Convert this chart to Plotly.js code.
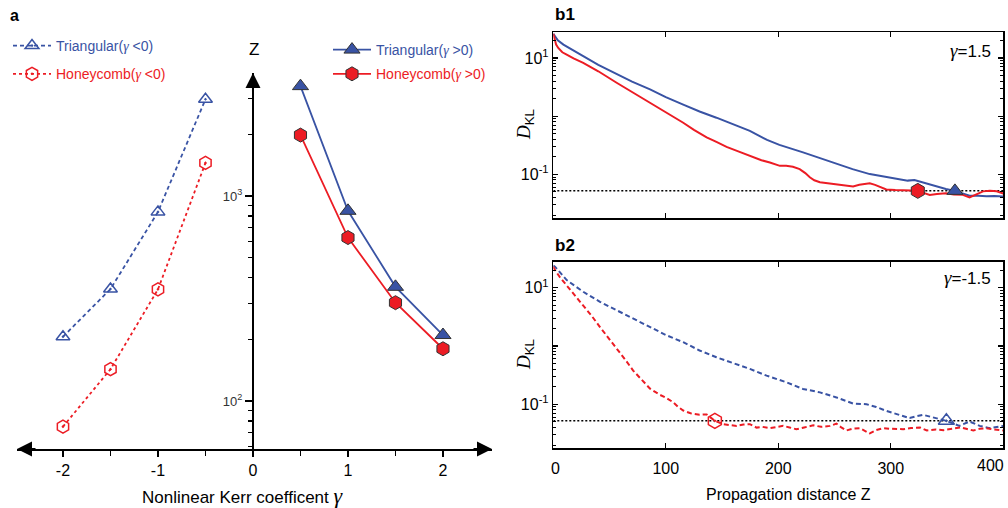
<!DOCTYPE html>
<html><head><meta charset="utf-8">
<script src="https://cdn.plot.ly/plotly-3.0.1.min.js"></script>
<style>html,body{margin:0;padding:0;background:#fff}#chart{width:1008px;height:508px}</style>
</head><body><div id="chart"></div>
<script>
// ---------- Panel a data ----------
const gammaNeg = [-2, -1.5, -1, -0.5];
const triNeg   = [206, 352, 838, 2970];
const hcNeg    = [75, 143, 351, 1453];
const gammaPos = [0.5, 1, 1.5, 2];
const triPos   = [3443, 848, 361, 210];
const hcPos    = [1986, 628, 302, 180];

// ---------- Panel b1 (gamma = 1.5) ----------
const b1TriZ = [0, 4, 9, 18, 26.6, 40, 56.3, 70, 86, 100, 115.5, 130, 145, 160, 174.7, 190, 201, 222, 237, 251.7, 266, 281.3, 295, 305, 315, 321, 327, 334.6, 342, 349, 357, 365, 370, 378, 385, 392, 400];
const b1TriD = [26, 20, 16.9, 13.2, 10.7, 7.6, 5.3, 3.9, 2.88, 2.12, 1.58, 1.2, 0.94, 0.72, 0.557, 0.39, 0.32, 0.238, 0.19, 0.15, 0.123, 0.101, 0.09, 0.083, 0.078, 0.08, 0.074, 0.068, 0.062, 0.056, 0.052, 0.046, 0.043, 0.043, 0.042, 0.0425, 0.0415];
const b1HcZ = [0, 1, 2.5, 4.4, 8, 11.9, 18, 26.6, 40, 56.3, 70, 86, 100, 115.5, 125, 136.3, 145, 154, 165, 174.7, 185, 192.5, 201.4, 207, 213, 219, 224, 228, 232, 237, 244, 251.7, 258, 266.5, 272, 278, 281.3, 286, 290, 296, 304, 311, 318, 324, 330, 334.6, 341, 349, 356, 364, 370, 376, 382, 388, 394, 400];
const b1HcD = [26, 21, 17, 14.8, 12.5, 11.4, 9.8, 8.2, 5.9, 3.74, 2.6, 1.7, 1.15, 0.77, 0.58, 0.43, 0.36, 0.297, 0.245, 0.208, 0.175, 0.16, 0.14, 0.141, 0.135, 0.123, 0.105, 0.089, 0.079, 0.073, 0.07, 0.068, 0.066, 0.062, 0.066, 0.068, 0.07, 0.066, 0.062, 0.055, 0.054, 0.054, 0.053, 0.052, 0.048, 0.0444, 0.046, 0.0473, 0.045, 0.0444, 0.04, 0.045, 0.051, 0.052, 0.051, 0.047];

// ---------- Panel b2 (gamma = -1.5) ----------
const b2TriZ = [0, 1.5, 11.9, 26.6, 41.5, 56.3, 71, 86, 100.7, 115.5, 130, 145, 160, 174.7, 189.6, 207.3, 222, 237, 251.7, 266.5, 278.4, 287, 296, 306, 316.8, 322, 328.6, 334, 340.5, 349.4, 355, 361, 365, 370, 375, 379, 388, 394, 400];
const b2TriD = [24, 22.9, 13.5, 8.5, 5.7, 4.1, 2.94, 2.11, 1.52, 1.16, 0.836, 0.64, 0.513, 0.404, 0.31, 0.238, 0.183, 0.16, 0.131, 0.103, 0.1, 0.09, 0.077, 0.067, 0.058, 0.062, 0.066, 0.062, 0.058, 0.052, 0.047, 0.0426, 0.046, 0.0506, 0.046, 0.0426, 0.039, 0.041, 0.0426];
const b2HcZ = [0, 1.5, 6, 11.9, 18, 26.6, 34, 41.5, 49, 56.3, 64, 71, 78, 86, 94.8, 100, 106.6, 111, 115.5, 122, 130, 136.3, 143.6, 151, 157, 163, 169, 174.7, 180.7, 186, 192.5, 198, 204.3, 210, 216, 223, 231, 238, 246, 251.7, 256, 260.6, 266, 272.5, 277, 281.3, 287, 293, 300, 311, 318, 326, 332, 340, 347, 354, 361.6, 367, 373.4, 379, 385, 392, 400];
const b2HcD = [23, 20, 15, 11, 7.8, 5.0, 3.3, 2.11, 1.38, 0.895, 0.58, 0.378, 0.27, 0.185, 0.145, 0.13, 0.108, 0.09, 0.078, 0.07, 0.066, 0.067, 0.052, 0.0456, 0.044, 0.0426, 0.045, 0.0456, 0.0398, 0.041, 0.0389, 0.041, 0.0426, 0.04, 0.0373, 0.04, 0.0436, 0.041, 0.0426, 0.0465, 0.04, 0.0355, 0.038, 0.0389, 0.035, 0.0316, 0.036, 0.0389, 0.038, 0.0373, 0.039, 0.04, 0.0355, 0.037, 0.036, 0.038, 0.04, 0.038, 0.0355, 0.038, 0.0389, 0.037, 0.0355];

const threshold = 0.052;
const thrZ = [0, 400];
const b1MarkZ = {hc: 324, tri: 357};
const b2MarkZ = {hc: 143.6, tri: 349.4};

const aTicks = [-2, -1, 0, 1, 2];
const aTickText = ['-2', '-1', '0', '1', '2'];
const bTicks = [0, 100, 200, 300, 400];
const bTickText = ['\u00a00', '100', '200', '300', ''];
const bLastTick = '400';

// ---------- styling / layout ----------
const W = 1008, H = 508;
const px = v => v / W;
const py = v => 1 - v / H;
const BLUE = '#3953a4', RED = '#ec1c24', EDGE = '#333333';
const FONT = "'Liberation Sans', Arial, sans-serif";
const gam = c => '<span style="color:' + c + ';font-family:Liberation Serif,serif"><i>γ</i></span>';
const legName = (label, c, rel) => '<span style="color:' + c + '">' + label + '(</span>' + gam(c) + '<span style="color:' + c + '">' + rel + '0)</span>';

const traces = [
  {x: gammaNeg, y: triNeg, xaxis: 'x', yaxis: 'y', mode: 'lines+markers', legend: 'legend', legendgroup: 'g1',
   name: legName('Triangular', BLUE, ' &lt;'),
   line: {color: BLUE, width: 1.8, dash: '4px,3px'},
   marker: {symbol: 'triangle-up-open-dot', size: 12, color: BLUE, line: {color: BLUE, width: 1.5}}},
  {x: gammaNeg, y: hcNeg, xaxis: 'x', yaxis: 'y', mode: 'lines+markers', legend: 'legend', legendgroup: 'g2',
   name: legName('Honeycomb', RED, ' &lt;'),
   line: {color: RED, width: 1.8, dash: '3px,3px'},
   marker: {symbol: 'hexagon-open-dot', size: 13, color: RED, line: {color: RED, width: 1.5}}},
  {x: gammaPos, y: triPos, xaxis: 'x', yaxis: 'y', mode: 'lines+markers', legend: 'legend2', legendgroup: 'g3',
   name: legName('Triangular', BLUE, ' &gt;'),
   line: {color: BLUE, width: 1.8},
   marker: {symbol: 'triangle-up', size: 14, color: BLUE, line: {color: EDGE, width: 1}}},
  {x: gammaPos, y: hcPos, xaxis: 'x', yaxis: 'y', mode: 'lines+markers', legend: 'legend2', legendgroup: 'g4',
   name: legName('Honeycomb', RED, ' &gt;'),
   line: {color: RED, width: 1.8},
   marker: {symbol: 'hexagon', size: 14, color: RED, line: {color: EDGE, width: 1}}},

  // b1
  {x: thrZ, y: [threshold, threshold], xaxis: 'x2', yaxis: 'y2', mode: 'lines', showlegend: false,
   line: {color: '#000', width: 1.5, dash: '2px,2px'}},
  {x: b1TriZ, y: b1TriD, xaxis: 'x2', yaxis: 'y2', mode: 'lines', showlegend: false, line: {color: BLUE, width: 2}},
  {x: b1HcZ, y: b1HcD, xaxis: 'x2', yaxis: 'y2', mode: 'lines', showlegend: false, line: {color: RED, width: 2}},
  {x: [b1MarkZ.hc], y: [threshold], xaxis: 'x2', yaxis: 'y2', mode: 'markers', showlegend: false,
   marker: {symbol: 'hexagon', size: 15, color: RED, line: {color: EDGE, width: 1}}},
  {x: [b1MarkZ.tri], y: [threshold], xaxis: 'x2', yaxis: 'y2', mode: 'markers', showlegend: false,
   marker: {symbol: 'triangle-up', size: 14, color: BLUE, line: {color: EDGE, width: 1}}},

  // b2
  {x: thrZ, y: [threshold, threshold], xaxis: 'x3', yaxis: 'y3', mode: 'lines', showlegend: false,
   line: {color: '#000', width: 1.5, dash: '2px,2px'}},
  {x: b2TriZ, y: b2TriD, xaxis: 'x3', yaxis: 'y3', mode: 'lines', showlegend: false, line: {color: BLUE, width: 2, dash: '5px,3px'}},
  {x: b2HcZ, y: b2HcD, xaxis: 'x3', yaxis: 'y3', mode: 'lines', showlegend: false, line: {color: RED, width: 2, dash: '5px,3px'}},
  {x: [b2MarkZ.hc], y: [threshold], xaxis: 'x3', yaxis: 'y3', mode: 'markers', showlegend: false,
   marker: {symbol: 'hexagon-open-dot', size: 15, color: RED, line: {color: RED, width: 1.5}}},
  {x: [b2MarkZ.tri], y: [threshold], xaxis: 'x3', yaxis: 'y3', mode: 'markers', showlegend: false,
   marker: {symbol: 'triangle-up-open-dot', size: 14, color: BLUE, line: {color: BLUE, width: 1.5}}}
];

const minorA = [60, 70, 80, 90, 200, 300, 400, 500, 600, 700, 800, 900, 2000, 3000];
const minorB = [0.02, 0.03, 0.04, 0.05, 0.06, 0.07, 0.08, 0.09, 0.2, 0.3, 0.4, 0.5, 0.6, 0.7, 0.8, 0.9, 2, 3, 4, 5, 6, 7, 8, 9, 20];

const bY = (dom) => ({
  type: 'log', range: [-1.75, 1.445], domain: dom, showgrid: false, zeroline: false,
  showline: true, linecolor: '#000', linewidth: 1.5, mirror: 'allticks',
  ticks: 'inside', ticklen: 5, tickwidth: 1.2, tickcolor: '#000',
  tickvals: [0.1, 1, 10], ticktext: ['10<sup>-1</sup>', '', '10<sup>1</sup>'],
  tickfont: {size: 16, color: '#000'},
  minor: {tickvals: minorB, ticks: 'inside', ticklen: 3, tickwidth: 1, tickcolor: '#000'}
});
const bX = (anchor, showLabels) => ({
  anchor: anchor, domain: [px(553.3), px(1003.3)], range: [0, 400], showgrid: false, zeroline: false,
  showline: true, linecolor: '#000', linewidth: 1.5, mirror: 'allticks',
  ticks: 'inside', ticklen: 5, tickwidth: 1.2, tickcolor: '#000',
  tickvals: bTicks, ticktext: bTickText,
  showticklabels: showLabels, tickfont: {size: 16, color: '#000'}, ticklabelstandoff: 5
});

const ann = (x, y, text, opts) => Object.assign({xref: 'paper', yref: 'paper', x: px(x), y: py(y), text: text, showarrow: false,
  xanchor: 'center', yanchor: 'middle', font: {size: 16, color: '#000', family: FONT}}, opts || {});
const arrow = (x, xref, y, ax, ay) => ({xref: xref, yref: 'paper', x: x, y: py(y), ax: ax, ay: ay, text: '',
  showarrow: true, arrowhead: 2, arrowsize: 1.5, arrowwidth: 2, arrowcolor: '#000', standoff: 0, startstandoff: 0});

const layout = {
  width: W, height: H, margin: {l: 0, r: 0, t: 0, b: 0},
  paper_bgcolor: '#fff', plot_bgcolor: 'rgba(0,0,0,0)',
  font: {family: FONT, color: '#000', size: 14},
  xaxis: {domain: [px(17), px(492)], range: [-2.484, 2.516], anchor: 'y', showgrid: false, zeroline: false,
    showline: true, linecolor: '#000', linewidth: 2, ticks: 'outside', ticklen: 6, tickwidth: 1.5, tickcolor: '#000',
    tickvals: aTicks, ticktext: aTickText, tickfont: {size: 16, color: '#000'},
    minor: {tickvals: [-1.5, -0.5, 0.5, 1.5], ticks: 'outside', ticklen: 5, tickwidth: 1.5, tickcolor: '#000'}},
  yaxis: {type: 'log', domain: [py(449), py(73)], range: [1.766, 3.601], anchor: 'free', position: px(253),
    showgrid: false, zeroline: false, showline: true, linecolor: '#000', linewidth: 2,
    ticks: 'outside', ticklen: 7, tickwidth: 1.5, tickcolor: '#000',
    tickvals: [100, 1000], ticktext: ['10<sup>2</sup>', '10<sup>3</sup>'], tickfont: {size: 13, color: '#333'},
    minor: {tickvals: minorA, ticks: 'outside', ticklen: 4, tickwidth: 1.2, tickcolor: '#000'}},
  xaxis2: bX('y2', false),
  yaxis2: Object.assign(bY([py(218), py(32)]), {anchor: 'x2'}),
  xaxis3: bX('y3', true),
  yaxis3: Object.assign(bY([py(448), py(261.7)]), {anchor: 'x3'}),
  legend: {x: px(8), y: py(30), xanchor: 'left', yanchor: 'top', bgcolor: 'rgba(0,0,0,0)', itemwidth: 38,
    font: {size: 14, family: FONT}, traceorder: 'grouped', tracegroupgap: 7},
  legend2: {x: px(328), y: py(34), xanchor: 'left', yanchor: 'top', bgcolor: 'rgba(0,0,0,0)', itemwidth: 38,
    font: {size: 14, family: FONT}, traceorder: 'grouped', tracegroupgap: 3},
  annotations: [
    ann(8, 16, '<b>a</b>', {xanchor: 'left', font: {size: 16, color: '#000', family: FONT}}),
    ann(254, 49, 'Z', {font: {size: 17, color: '#000', family: FONT}}),
    ann(243, 495, 'Nonlinear Kerr coefficent <span style="font-family:Liberation Serif,serif;font-size:22px"><i>γ</i></span>', {font: {size: 17, color: '#000', family: FONT}}),
    ann(553, 15, '<b>b1</b>', {xanchor: 'left', font: {size: 17, color: '#000', family: FONT}}),
    ann(553, 245, '<b>b2</b>', {xanchor: 'left', font: {size: 17, color: '#000', family: FONT}}),
    ann(993, 50, '<span style="font-family:Liberation Serif,serif;font-size:19px"><i>γ</i></span>=1.5', {xanchor: 'right', font: {size: 17, color: '#000', family: FONT}}),
    ann(993, 277, '<span style="font-family:Liberation Serif,serif;font-size:19px"><i>γ</i></span>=-1.5', {xanchor: 'right', font: {size: 17, color: '#000', family: FONT}}),
    ann(525, 125, '<span style="font-family:Liberation Serif,serif"><i>D</i></span><sub>KL</sub>', {textangle: -90, font: {size: 19, color: '#000', family: FONT}}),
    ann(525, 355, '<span style="font-family:Liberation Serif,serif"><i>D</i></span><sub>KL</sub>', {textangle: -90, font: {size: 19, color: '#000', family: FONT}}),
    ann(788, 494, 'Propagation distance Z', {font: {size: 16, color: '#000', family: FONT}}),
    {xref: 'x3', yref: 'paper', x: bTicks[4], y: py(465), text: bLastTick, showarrow: false, xanchor: 'right', yanchor: 'middle',
     xshift: 3, font: {size: 16, color: '#000', family: FONT}},
    arrow(2.516, 'x', 449, -20, 0),
    arrow(-2.484, 'x', 449, 20, 0),
    arrow(0, 'x', 73, 0, 20)
  ]
};

Plotly.newPlot('chart', traces, layout, {displayModeBar: false, staticPlot: true});
</script>
</body></html>
